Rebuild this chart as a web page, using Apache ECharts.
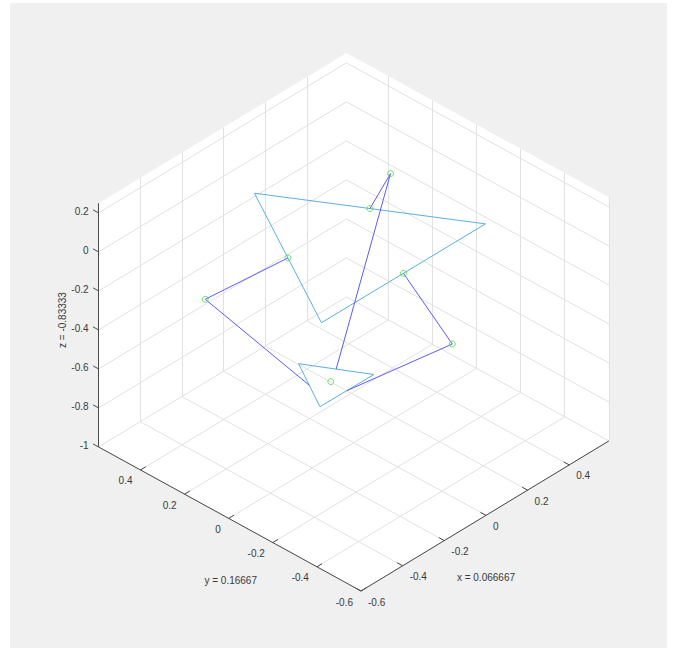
<!DOCTYPE html>
<html>
<head>
<meta charset="utf-8">
<script src="https://cdn.jsdelivr.net/npm/echarts@6/dist/echarts.min.js"></script>
<style>
  html, body { margin: 0; padding: 0; background: #ffffff; }
  #chart { width: 677px; height: 661px; }
</style>
</head>
<body>
<div id="chart"></div>
<script>
// Axis limits and ticks of the 3-D box
const xLim = [-0.6, 0.59];
const yLim = [-0.6, 0.59];
const zLim = [-1, 0.25];
const xTicks = [-0.6, -0.4, -0.2, 0, 0.2, 0.4];
const yTicks = [-0.6, -0.4, -0.2, 0, 0.2, 0.4];
const zTicks = [-1, -0.8, -0.6, -0.4, -0.2, 0, 0.2];

// Outer triangle A, B, C and the midpoints of AB, BC, CA
const outerTriangle = [[0, 0.45, 0], [0.4, -0.22, 0], [0.02, 0.165, -0.5]];
const outerMidpoints = [[0.2, 0.115, 0], [0.21, -0.0275, -0.25], [0.01, 0.3075, -0.25]];

// Inner triangle D, E, F and the midpoints of DE, EF, FD
const innerTriangle = [[0, 0.25, -0.75], [0.33, 0.22, -1], [-0.13, 0.03, -0.75]];
const innerMidpoints = [[0.165, 0.235, -0.875], [0.1, 0.125, -0.875], [-0.065, 0.14, -0.75]];

// Apex points joining each outer midpoint to its inner midpoint
const apexPoints = [[0.23, 0.05, 0.2], [0.23, -0.23, -0.5], [-0.31, 0.38, -0.3]];

// Centroid of the inner triangle
const centroid = [0.066667, 0.16667, -0.83333];

// ---- orthographic view of the box (azimuth / elevation, box scale) ----
const AZ = 46.4 * Math.PI / 180;
const EL = 35.2 * Math.PI / 180;
const BOX = [302, 304.5, 238.7];
function proj(p) {
  const u = (p[0] - xLim[0]) * BOX[0];
  const v = (p[1] - yLim[0]) * BOX[1];
  const w = (p[2] - zLim[0]) * BOX[2];
  return [
    u * Math.cos(AZ) - v * Math.sin(AZ),
    Math.sin(EL) * (u * Math.sin(AZ) + v * Math.cos(AZ)) + Math.cos(EL) * w
  ];
}

// back faces of the box (floor + two far walls)
const faceCorners = [
  [xLim[0], yLim[0], zLim[0]], [xLim[1], yLim[0], zLim[0]], [xLim[1], yLim[0], zLim[1]],
  [xLim[1], yLim[1], zLim[1]], [xLim[0], yLim[1], zLim[1]], [xLim[0], yLim[1], zLim[0]]
];

// grid lines on floor and far walls
const gridSegs = [];
xTicks.forEach(x => {
  gridSegs.push([[x, yLim[0], zLim[0]], [x, yLim[1], zLim[0]]]);
  gridSegs.push([[x, yLim[1], zLim[0]], [x, yLim[1], zLim[1]]]);
});
yTicks.forEach(y => {
  gridSegs.push([[xLim[0], y, zLim[0]], [xLim[1], y, zLim[0]]]);
  gridSegs.push([[xLim[1], y, zLim[0]], [xLim[1], y, zLim[1]]]);
});
zTicks.forEach(z => {
  gridSegs.push([[xLim[0], yLim[1], z], [xLim[1], yLim[1], z]]);
  gridSegs.push([[xLim[1], yLim[0], z], [xLim[1], yLim[1], z]]);
});

// axis lines and tick marks
const TICK = 0.025;
const axisSegs = [
  [[xLim[0], yLim[0], zLim[0]], [xLim[1], yLim[0], zLim[0]]],
  [[xLim[0], yLim[0], zLim[0]], [xLim[0], yLim[1], zLim[0]]],
  [[xLim[0], yLim[1], zLim[0]], [xLim[0], yLim[1], zLim[1]]]
];
xTicks.forEach(x => axisSegs.push([[x, yLim[0], zLim[0]], [x, yLim[0] + TICK, zLim[0]]]));
yTicks.forEach(y => axisSegs.push([[xLim[0], y, zLim[0]], [xLim[0] + TICK, y, zLim[0]]]));
zTicks.forEach(z => axisSegs.push([[xLim[0], yLim[1], z], [xLim[0], yLim[1] + TICK, z]]));

// text labels: tick labels and axis titles
const texts = [];
xTicks.forEach(x => texts.push({ p: [x, yLim[0], zLim[0]], t: String(x), dx: 7, dy: 11, align: 'left' }));
yTicks.forEach(y => texts.push({ p: [xLim[0], y, zLim[0]], t: String(y), dx: -8, dy: 11, align: 'right' }));
zTicks.forEach(z => texts.push({ p: [xLim[0], yLim[1], z], t: String(z), dx: -10, dy: -1, align: 'right' }));
texts.push({ p: [0, yLim[0], zLim[0]], t: 'x = ' + centroid[0], dx: 0, dy: 62, align: 'center' });
texts.push({ p: [xLim[0], 0, zLim[0]], t: 'y = ' + centroid[1], dx: 2, dy: 62, align: 'center' });
texts.push({ p: [xLim[0], yLim[1], -0.375], t: 'z = ' + centroid[2], dx: -36, dy: -5, align: 'center', rot: Math.PI / 2 });

const FONT = '10px "Liberation Sans", Arial, Helvetica, sans-serif';
const TEXT_COLOR = '#3a3a3a';
const LIGHT_BLUE = '#5aaee0';
const BLUE = '#5b5bf5';
const GREEN = '#44dd44';

function closed(pts) { return pts.concat([pts[0]]).map(proj); }

const series = [
  {
    type: 'custom', silent: true, z: 1,
    data: [0],
    renderItem: (params, api) => ({
      type: 'polygon',
      shape: { points: faceCorners.map(c => api.coord(proj(c))) },
      style: { fill: '#ffffff' }
    })
  },
  {
    type: 'lines', coordinateSystem: 'cartesian2d', silent: true, z: 2,
    lineStyle: { color: '#e1e1e1', width: 1, opacity: 1 },
    data: gridSegs.map(s => ({ coords: s.map(proj) }))
  },
  {
    type: 'lines', coordinateSystem: 'cartesian2d', silent: true, z: 3,
    lineStyle: { color: '#4a4a4a', width: 1, opacity: 1 },
    data: axisSegs.map(s => ({ coords: s.map(proj) }))
  },
  {
    type: 'line', z: 4, showSymbol: false, silent: true,
    lineStyle: { color: LIGHT_BLUE, width: 1 },
    data: closed(outerTriangle)
  },
  {
    type: 'line', z: 4, showSymbol: false, silent: true,
    lineStyle: { color: LIGHT_BLUE, width: 1 },
    data: closed(innerTriangle)
  }
];

apexPoints.forEach((a, i) => {
  series.push({
    type: 'line', z: 5, showSymbol: false, silent: true,
    lineStyle: { color: BLUE, width: 1 },
    data: [outerMidpoints[i], a, innerMidpoints[i]].map(proj)
  });
});

series.push({
  type: 'scatter', z: 6, silent: true,
  symbol: 'circle', symbolSize: 6,
  itemStyle: { color: 'rgba(0,0,0,0)', borderColor: GREEN, borderWidth: 1 },
  data: outerMidpoints.concat(apexPoints, [centroid]).map(proj)
});

series.push({
  type: 'custom', silent: true, z: 7,
  data: texts.map(tx => proj(tx.p)),
  renderItem: (params, api) => {
    const tx = texts[params.dataIndex];
    const c = api.coord([api.value(0), api.value(1)]);
    return {
      type: 'text',
      x: c[0] + tx.dx, y: c[1] + tx.dy,
      rotation: tx.rot || 0,
      style: {
        text: tx.t, fill: TEXT_COLOR, font: FONT,
        align: tx.align, verticalAlign: 'middle',
        textAlign: tx.align, textVerticalAlign: 'middle'
      }
    };
  }
});

const chart = echarts.init(document.getElementById('chart'), null, { renderer: 'svg' });
chart.setOption({
  animation: false,
  backgroundColor: '#ffffff',
  graphic: [{
    type: 'rect', z: -10, silent: true,
    shape: { x: 10, y: 3, width: 657, height: 645 },
    style: { fill: '#f0f0f0' }
  }],
  grid: { left: 0, top: 0, right: 0, bottom: 0, containLabel: false },
  xAxis: { type: 'value', min: -361, max: 316, show: false },
  yAxis: { type: 'value', min: -70, max: 591, show: false },
  series: series
});
</script>
</body>
</html>
